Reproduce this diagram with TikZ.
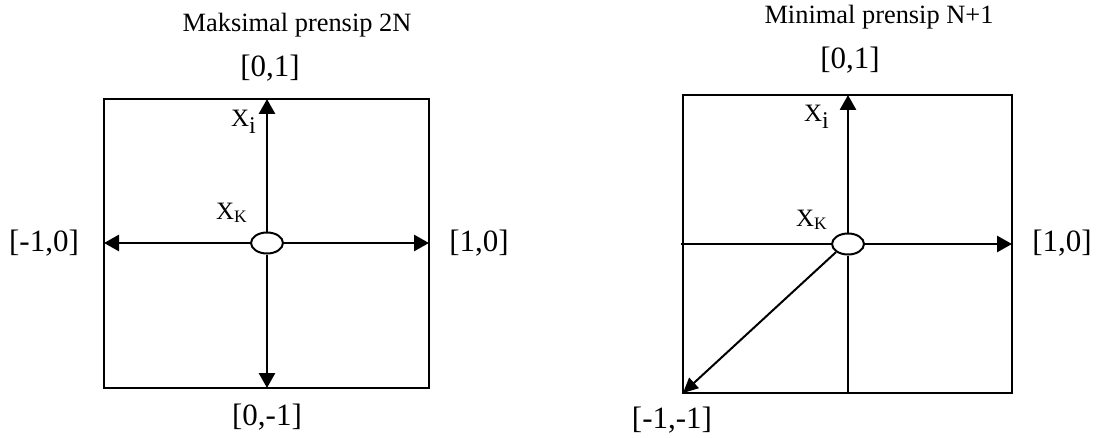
\documentclass[tikz,border=0pt]{standalone}
\usepackage{fontspec}
\setmainfont{Liberation Serif}
\usepackage{tikz}
\usetikzlibrary{arrows.meta,shapes,positioning,calc}

\begin{document}
\begin{tikzpicture}[
  x=0.5pt, y=-0.5pt,
  every node/.style={inner sep=0pt},
  frame/.style={draw, line width=1pt},
  vec/.style={-{Triangle[length=7.5pt,width=8pt]}, line width=1.4pt},
  thinvec/.style={-{Triangle[length=7.5pt,width=7pt]}, line width=1pt},
  centre/.style={ellipse, draw, fill=white, line width=1pt, minimum width=16pt, minimum height=10.5pt},
  title/.style={font=\fontsize{13.2}{15}\selectfont},
  corner/.style={font=\fontsize{15.5}{18}\selectfont},
  pt/.style={font=\fontsize{12.5}{15}\selectfont}
]
\useasboundingbox (0,0) rectangle (1096,438);

% left: maksimal prensip
\draw[frame] (104,99) rectangle (429,388);
\coordinate (lt) at (267,99);
\coordinate (lb) at (267,388);
\coordinate (ll) at (104,243);
\coordinate (lr) at (429,243);
\node[centre] (kl) at (267,243) {};
\draw[vec] (kl.north) -- (lt);
\draw[vec] (kl.south) -- (lb);
\draw[vec] (kl.west) -- (ll);
\draw[vec] (kl.east) -- (lr);

\node[title] (tl) at (297,25) {Maksimal prensip 2N};
\node[corner] (ltop) at (270,68) {[0,1]};
\node[corner] (lbot) at (267,417) {[0,-1]};
\node[corner] (lleft) at (44,243) {[-1,0]};
\node[corner] (lright) at (479,243) {[1,0]};
\node[pt] (xil) at (244,122) {X\textsubscript{\large i}};
\node[pt] (xkl) at (232,213) {X\textsubscript{K}};

% right: minimal prensip
\draw[frame] (683,95) rectangle (1012,393);
\coordinate (rt) at (848,95);
\coordinate (rb) at (848,393);
\coordinate (rl) at (681,244);
\coordinate (rr) at (1012,244);
\coordinate (rc) at (683,393);
\node[centre] (kr) at (848,244) {};
\draw[vec] (kr.north) -- (rt);
\draw[line width=1pt] (kr.south) -- (rb);
\draw[line width=1pt] (kr.west) -- (rl);
\draw[vec] (kr.east) -- (rr);
\draw[thinvec] (kr.south west) -- (rc);

\node[title] (tr) at (879,17) {Minimal prensip N+1};
\node[corner] (rtop) at (850,60) {[0,1]};
\node[corner] (rright) at (1062,243) {[1,0]};
\node[corner] (rcorner) at (672,420) {[-1,-1]};
\node[pt] (xir) at (817,117) {X\textsubscript{\large i}};
\node[pt] (xkr) at (812,220) {X\textsubscript{K}};

\end{tikzpicture}
\end{document}
